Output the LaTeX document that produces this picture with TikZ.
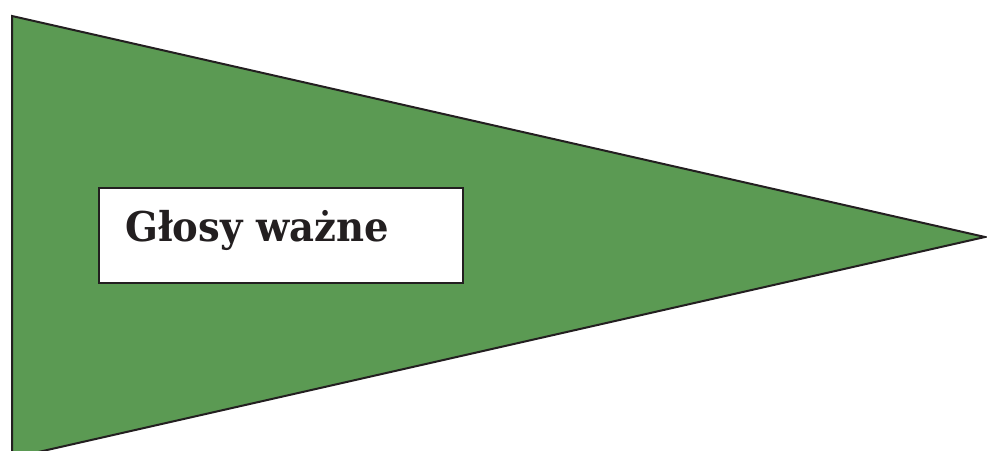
\documentclass[tikz,border=0pt]{standalone}
\usepackage{fontspec}
\setmainfont{DejaVu Serif}
\definecolor{flaggreen}{RGB}{91,154,83}
\definecolor{inkdark}{RGB}{35,31,32}
\tikzset{
  pennant/.style={fill=flaggreen, draw=inkdark, line width=2pt, line join=miter},
  labelbox/.style={fill=white, draw=inkdark, line width=2pt},
  labeltext/.style={font=\bfseries\fontsize{41}{41}\selectfont, text=inkdark, inner sep=0pt}
}
\begin{document}
\begin{tikzpicture}[x=1pt,y=1pt]
\useasboundingbox (0,0) rectangle (987,450);
\begin{scope}
\clip (0,0) rectangle (987,450);
\coordinate (tl) at (12,434);
\coordinate (bl) at (12,-8);
\coordinate (tip) at (985,213);
\draw[pennant] (tl) -- (tip) -- (bl) -- cycle;
\end{scope}
\node[labelbox, minimum width=364pt, minimum height=95pt, anchor=north west, inner sep=0pt] (box) at (98,263) {};
\node[labeltext, anchor=base west] (label) at (125,208) {\scalebox{0.94}[1]{Głosy ważne}};
\end{tikzpicture}
\end{document}
